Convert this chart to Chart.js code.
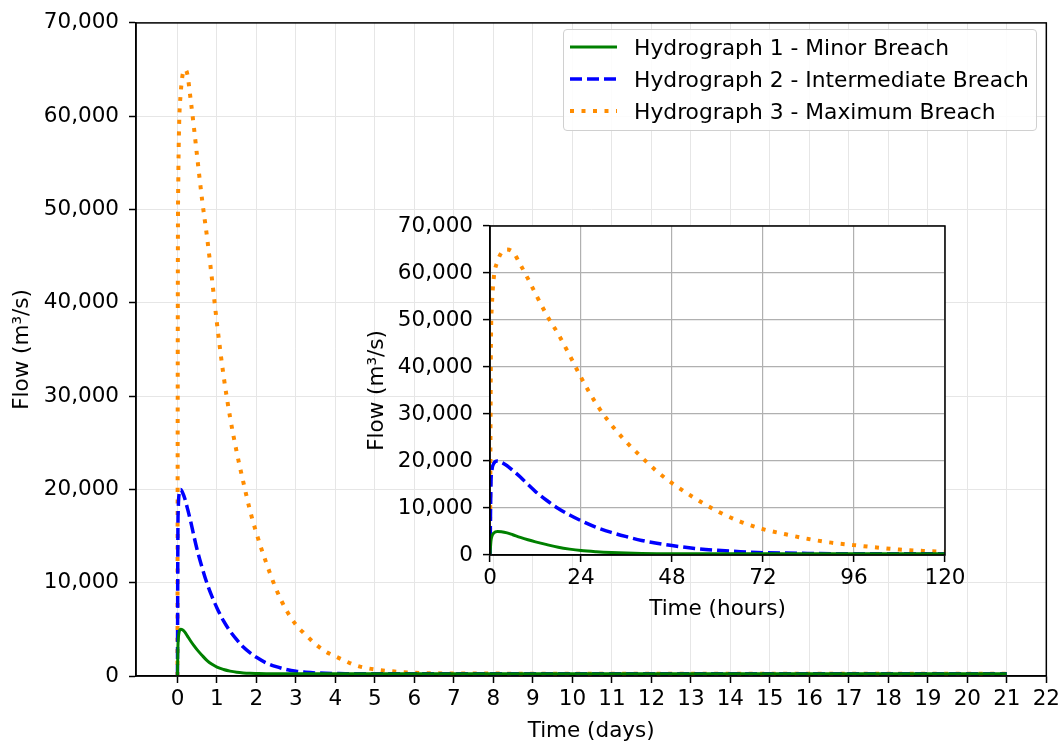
<!DOCTYPE html>
<html>
<head>
<meta charset="utf-8">
<script src="https://cdn.jsdelivr.net/npm/chart.js@4/dist/chart.umd.min.js"></script>
<style>
  body { margin: 0; background: #fff; }
  #wrap { position: relative; width: 1064px; height: 744px; }
  #main { position: absolute; left: 0; top: 0; }
  #inset { position: absolute; left: 355px; top: 200px; }
  #legend {
    position: absolute; left: 563px; top: 29px; width: 472px; height: 99px;
    border: 1px solid #d0d0d0; border-radius: 4px; background: rgba(255,255,255,0.85);
    font-family: "DejaVu Sans", sans-serif; font-size: 21.8px; color: #000;
    padding-top: 1px; box-sizing: content-box;
  }
  .row { height: 32px; display: flex; align-items: center; }
  .row svg { margin-left: 6px; margin-right: 16px; }
</style>
</head>
<body>
<div id="wrap">
  <canvas id="main" width="1064" height="744"></canvas>
  <canvas id="inset" width="640" height="422"></canvas>
  <div id="legend"></div>
</div>
<script>
// time since breach, hours
const hours = [0, 0.25, 0.5, 1, 2, 3, 4.5, 6, 8, 10, 12, 15, 18, 21, 24, 28, 32, 36, 40, 44,
  48, 54, 60, 66, 72, 78, 84, 90, 96, 102, 108, 114, 120, 132, 144, 168, 240, 336, 504];

// flow in m3/s
const minorFlow = [0, 3000, 4000, 4700, 5000, 4950, 4700, 4300, 3750, 3250, 2800, 2200, 1650, 1250, 950, 700, 520, 400, 330, 290,
  270, 250, 250, 250, 250, 250, 250, 250, 250, 250, 250, 250, 250, 250, 250, 250, 250, 250, 250];
const intermediateFlow = [0, 15000, 18000, 19500, 20000, 19700, 19000, 18000, 16600, 15000, 13500, 11600, 9900, 8500, 7300, 5900, 4800, 3900, 3100, 2500,
  2000, 1400, 1000, 700, 500, 400, 330, 290, 270, 250, 250, 250, 250, 250, 250, 250, 250, 250, 250];
const maximumFlow = [0, 45000, 53000, 59000, 62500, 64300, 65000, 64500, 61800, 58800, 55600, 51000, 47000, 42500, 37800, 32200, 27700, 24000, 20800, 17800,
  15300, 12100, 9300, 7100, 5500, 4400, 3400, 2630, 2100, 1600, 1150, 880, 700, 480, 350, 270, 250, 250, 250];

const seriesNames = ["Hydrograph 1 - Minor Breach", "Hydrograph 2 - Intermediate Breach", "Hydrograph 3 - Maximum Breach"];
const seriesFlows = [minorFlow, intermediateFlow, maximumFlow];
const seriesColors = ["#008000", "#0000ff", "#ff8c00"];
const seriesWidths = [3, 3.5, 4];
const seriesDashes = [[], [12, 5], [4, 7.5]];

const dayTicks = [0, 1, 2, 3, 4, 5, 6, 7, 8, 9, 10, 11, 12, 13, 14, 15, 16, 17, 18, 19, 20, 21, 22];
const hourTicks = [0, 24, 48, 72, 96, 120];
const flowTicks = [0, 10000, 20000, 30000, 40000, 50000, 60000, 70000];

const font = "DejaVu Sans";

// axes box and white plot background
const frame = {
  id: "frame",
  beforeDraw(chart, args, opts) {
    if (!opts.fill) return;
    const a = chart.chartArea, ctx = chart.ctx;
    ctx.save();
    ctx.fillStyle = opts.fill;
    ctx.fillRect(a.left, a.top, a.right - a.left, a.bottom - a.top);
    ctx.restore();
  },
  afterDatasetsDraw(chart) {
    const a = chart.chartArea, ctx = chart.ctx;
    ctx.save();
    ctx.strokeStyle = "#000";
    ctx.lineWidth = 1.5;
    ctx.strokeRect(a.left, a.top, a.right - a.left, a.bottom - a.top);
    ctx.restore();
  }
};

function makeDatasets(scaleX) {
  return seriesNames.map((name, i) => ({
    label: name,
    data: hours.map((h, j) => ({ x: h / scaleX, y: seriesFlows[i][j] })),
    borderColor: seriesColors[i],
    borderWidth: seriesWidths[i],
    borderDash: seriesDashes[i],
    pointRadius: 0,
    fill: false,
    cubicInterpolationMode: "monotone"
  }));
}

function makeOptions(o) {
  const tickFont = { family: font, size: 21.5 };
  return {
    responsive: false,
    animation: false,
    layout: { padding: { left: 0, top: o.padTop, right: o.padRight, bottom: 0 } },
    plugins: { legend: { display: false }, tooltip: { enabled: false }, frame: { fill: o.fill } },
    scales: {
      x: {
        type: "linear",
        min: o.xMin,
        max: o.xMax,
        afterBuildTicks: s => { s.ticks = o.xTicks.map(v => ({ value: v })); },
        afterFit: s => { s.height = o.xHeight; },
        grid: { color: o.gridColor, lineWidth: o.gridWidth, tickColor: "#000", tickLength: 7, tickWidth: 1.5 },
        border: { color: "#000", width: 1.5 },
        ticks: { color: "#000", font: tickFont, padding: 4, maxRotation: 0, autoSkip: false },
        title: { display: true, text: o.xTitle, color: "#000", font: tickFont, padding: { top: 0, bottom: 0 } }
      },
      y: {
        min: 0,
        max: 70000,
        afterBuildTicks: s => { s.ticks = flowTicks.map(v => ({ value: v })); },
        afterFit: s => { s.width = o.yWidth; },
        grid: { color: o.gridColor, lineWidth: o.gridWidth, tickColor: "#000", tickLength: 7, tickWidth: 1.5 },
        border: { color: "#000", width: 1.5 },
        ticks: { color: "#000", font: tickFont, padding: 10, callback: v => v.toLocaleString("en-US") },
        title: { display: true, text: "Flow (m³/s)", color: "#000", font: tickFont, padding: { top: 10, bottom: 0 } }
      }
    }
  };
}

new Chart(document.getElementById("main"), {
  type: "line",
  data: { datasets: makeDatasets(24) },
  options: makeOptions({
    padTop: 17, padRight: 17, xMin: -1.05, xMax: 22, xTicks: dayTicks, xHeight: 68, yWidth: 136,
    gridColor: "#e6e6e6", gridWidth: 1, xTitle: "Time (days)", fill: null
  }),
  plugins: [frame]
});

new Chart(document.getElementById("inset"), {
  type: "line",
  data: { datasets: makeDatasets(1) },
  options: makeOptions({
    padTop: 26, padRight: 50, xMin: 0, xMax: 120, xTicks: hourTicks, xHeight: 67, yWidth: 135,
    gridColor: "#b0b0b0", gridWidth: 1.2, xTitle: "Time (hours)", fill: "#fff"
  }),
  plugins: [frame]
});

// legend inside the main axes
const legend = document.getElementById("legend");
seriesNames.forEach((name, i) => {
  const row = document.createElement("div");
  row.className = "row";
  const dash = seriesDashes[i].length ? seriesDashes[i].join(" ") : "none";
  row.innerHTML = '<svg width="48" height="10"><line x1="0" y1="5" x2="47" y2="5" stroke="' + seriesColors[i] +
    '" stroke-width="' + seriesWidths[i] + '" stroke-dasharray="' + dash + '"/></svg><span>' + name + '</span>';
  legend.appendChild(row);
});
</script>
</body>
</html>
